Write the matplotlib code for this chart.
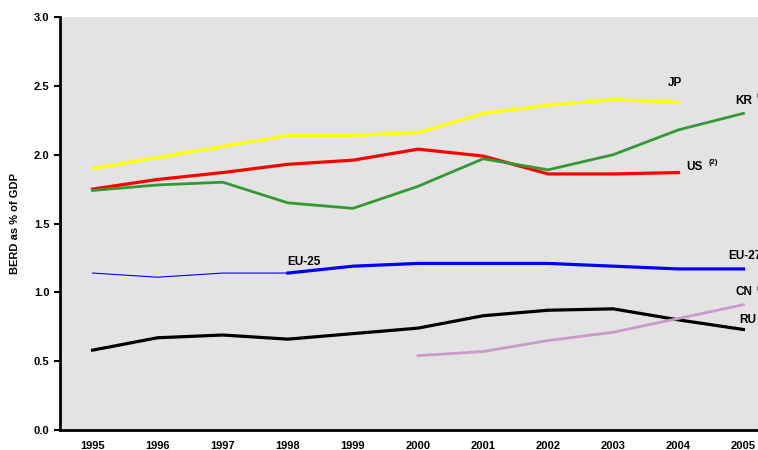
import numpy as np
import matplotlib
matplotlib.use('Agg')
import matplotlib.pyplot as plt

plt.rcParams['font.family'] = ['Liberation Sans', 'DejaVu Sans']
plt.rcParams['font.weight'] = 'bold'

years = np.arange(1995, 2006)
jp = [1.90, 1.98, 2.06, 2.14, 2.14, 2.16, 2.30, 2.36, 2.40, 2.38]
us = [1.75, 1.82, 1.87, 1.93, 1.96, 2.04, 1.99, 1.86, 1.86, 1.87]
kr = [1.74, 1.78, 1.80, 1.65, 1.61, 1.77, 1.97, 1.89, 2.00, 2.18, 2.30]
eu25 = [1.14, 1.11, 1.14, 1.14]
eu27 = [1.14, 1.19, 1.21, 1.21, 1.21, 1.19, 1.17, 1.17]
ru = [0.58, 0.67, 0.69, 0.66, 0.70, 0.74, 0.83, 0.87, 0.88, 0.80, 0.73]
cn = [0.54, 0.57, 0.65, 0.71, 0.81, 0.91]

fig = plt.figure(figsize=(7.58, 4.5), dpi=100)
ax = fig.add_axes([60/758, 20/450, 716/758, 413/450])
ax.set_facecolor('#e3e3e3')

ax.plot(years[:len(jp)], jp, color='#ffff00', lw=2.3)
ax.plot(years[:len(us)], us, color='#ff0000', lw=2.3)
ax.plot(years, kr, color='#339933', lw=2.0)
ax.plot(years[:len(eu25)], eu25, color='#0000ff', lw=0.8)
ax.plot(years[3:], eu27, color='#0000ff', lw=2.3)
ax.plot(years, ru, color='black', lw=2.3)
ax.plot(years[5:], cn, color='#cc99cc', lw=2.0)

fs = 8.5
ax.text(2003.95, 2.50, 'JP', fontsize=fs, weight='bold', ha='center')
ax.text(2004.88, 2.37, 'KR', fontsize=fs, weight='bold', ha='left', clip_on=False)
ax.text(2005.2, 2.42, '(2)', fontsize=5.5, weight='bold', ha='left', clip_on=False)
ax.text(2004.12, 1.89, 'US', fontsize=fs, weight='bold', ha='left')
ax.text(2004.47, 1.93, '(2)', fontsize=5.5, weight='bold', ha='left')
ax.text(1998.25, 1.20, 'EU-25', fontsize=fs, weight='bold', ha='center')
ax.text(2004.77, 1.24, 'EU-27', fontsize=fs, weight='bold', ha='left')
ax.text(2004.88, 0.98, 'CN', fontsize=fs, weight='bold', ha='left')
ax.text(2005.2, 1.02, '(2)', fontsize=5.5, weight='bold', ha='left')
ax.text(2004.93, 0.78, 'RU', fontsize=fs, weight='bold', ha='left')

ax.set_xlim(1994.5, 2005.5)
ax.set_ylim(0, 3.0)
ax.set_xticks(years)
ax.set_yticks(np.arange(0, 3.01, 0.5))
ax.set_yticklabels(['%.1f' % v for v in np.arange(0, 3.01, 0.5)])
ax.tick_params(axis='x', length=0, pad=8, labelsize=8)
ax.tick_params(axis='y', length=4, width=1.5, labelsize=8, direction='out')
for lbl in ax.get_xticklabels() + ax.get_yticklabels():
    lbl.set_fontweight('bold')
ax.set_ylabel('BERD as % of GDP', fontsize=8, weight='bold', labelpad=10)

for s in ['top', 'right']:
    ax.spines[s].set_visible(False)
for s in ['left', 'bottom']:
    ax.spines[s].set_linewidth(2)

fig.savefig('out.png', dpi=100, facecolor='white')
